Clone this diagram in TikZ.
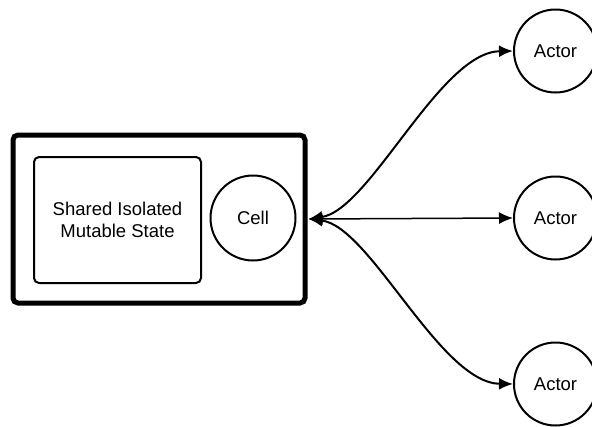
\documentclass[tikz,border=0pt]{standalone}
\usepackage{fontspec}
\setmainfont{Liberation Sans}
\usetikzlibrary{arrows.meta}
\begin{document}
\begin{tikzpicture}[x=1pt,y=-1pt,
  txt/.style={font=\fontsize{18.5}{21.5}\selectfont, align=center},
  circ/.style={draw, circle, line width=2pt, minimum size=83pt, inner sep=0pt, txt},
  link/.style={line width=2pt, {Latex[length=14pt,width=12pt]}-{Latex[length=14pt,width=12pt]}}]
\useasboundingbox (0,0) rectangle (592,426);
\node[draw, line width=5pt, rounded corners=5pt, minimum width=292pt, minimum height=168pt] (outer) at (159,219) {};
\node[draw, line width=2pt, rounded corners=5pt, minimum width=167pt, minimum height=126pt, txt] (state) at (117.5,220) {Shared Isolated\\Mutable State};
\node[circ, minimum size=85pt] (cell) at (253,218) {Cell};
\node[circ] (a1) at (555.5,51) {Actor};
\node[circ] (a2) at (555.5,218) {Actor};
\node[circ] (a3) at (555.5,384) {Actor};
\coordinate (hub) at ([xshift=1pt]outer.east);
\draw[link] (hub) .. controls (370,210) and (440,52) .. (a1.west);
\draw[link, line width=1.5pt] (hub) -- (a2.west);
\draw[link] (hub) .. controls (370,226) and (440,383) .. (a3.west);
\end{tikzpicture}
\end{document}
